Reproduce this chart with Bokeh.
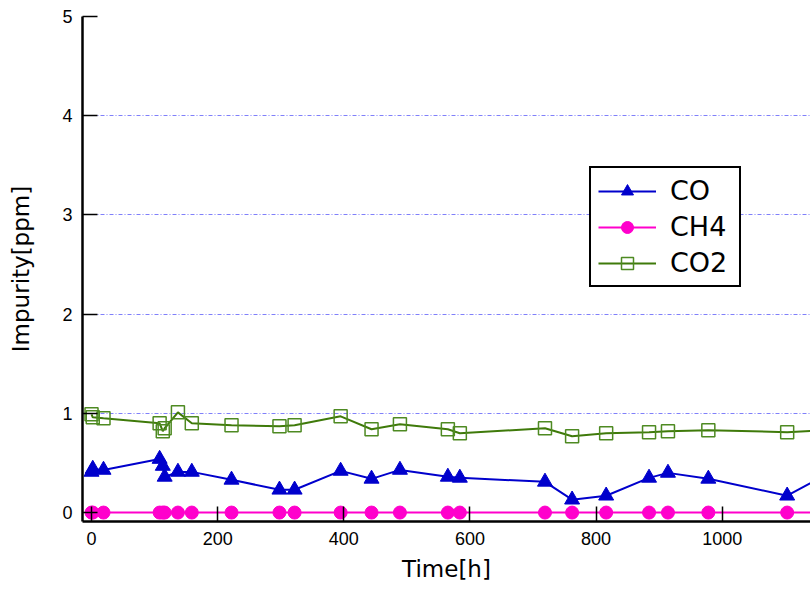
from bokeh.plotting import figure
from bokeh.models import Range1d, FixedTicker, SingleIntervalTicker, Legend
from bokeh.embed import file_html
from bokeh.resources import INLINE

# Time [h]
time_h = [0, 2, 19, 108, 113, 116, 137, 159, 222, 298, 322, 395, 444, 489,
          565, 584, 719, 762, 816, 884, 914, 978, 1103, 1190]
# Impurity [ppm]
co = [0.41, 0.44, 0.43, 0.54, 0.47, 0.36, 0.41, 0.41, 0.33, 0.23, 0.23, 0.42,
      0.34, 0.43, 0.36, 0.35, 0.31, 0.13, 0.17, 0.35, 0.40, 0.34, 0.17, 0.47]
ch4 = [0.0] * len(time_h)
co2 = [0.99, 0.96, 0.95, 0.90, 0.82, 0.85, 1.01, 0.90, 0.88, 0.87, 0.88, 0.97,
       0.84, 0.89, 0.84, 0.80, 0.85, 0.77, 0.80, 0.81, 0.82, 0.83, 0.81, 0.84]

y_ticks = [0, 1, 2, 3, 4, 5]

FONT = "DejaVu Sans"
TICKFONT = "Liberation Sans"

p = figure(width=810, height=591, output_backend="svg", toolbar_location=None,
           x_range=Range1d(-14.3, 1140), y_range=Range1d(-0.09, 5.0),
           min_border_left=82, min_border_top=16, min_border_right=0,
           min_border_bottom=70)
p.outline_line_color = None
p.background_fill_color = "white"
p.border_fill_color = "white"

# axes
for ax in (p.xaxis[0], p.yaxis[0]):
    ax.axis_line_width = 2.5
    ax.axis_line_color = "black"
    ax.major_tick_in = 15
    ax.major_tick_out = 0
    ax.minor_tick_in = 0
    ax.minor_tick_out = 0
    ax.major_tick_line_width = 1.5
    ax.major_tick_line_color = "black"
    ax.major_label_text_font = TICKFONT
    ax.major_label_text_font_size = "18px"
    ax.major_label_text_color = "black"
    ax.axis_label_text_font = FONT
    ax.axis_label_text_font_size = "23px"
    ax.axis_label_text_font_style = "normal"
    ax.axis_label_text_color = "black"

p.xaxis.ticker = SingleIntervalTicker(interval=200, num_minor_ticks=0)
p.yaxis.ticker = FixedTicker(ticks=y_ticks)
p.xaxis.axis_label = "Time[h]"
p.yaxis.axis_label = "Impurity[ppm]"
p.xaxis.major_label_standoff = 10
p.xaxis.axis_label_standoff = 8
p.yaxis.major_label_standoff = 10
p.yaxis.axis_label_standoff = 25

p.xgrid.grid_line_color = None
p.ygrid.ticker = FixedTicker(ticks=[1, 2, 3, 4, 5])
p.ygrid.grid_line_color = "#8080fa"
p.ygrid.grid_line_width = 1
p.ygrid.grid_line_dash = "4 2 1 2"

# series
blue = "#0000CC"
magenta = "#FF00CC"
green = "#3F7A0A"
green_m = "#4E8A22"

r_co2_l = p.line(time_h, co2, line_color=green, line_width=2)
r_co2_m = p.scatter(time_h, co2, marker="square", size=13, fill_color=None,
                    line_color=green_m, line_width=1.5)
r_ch4_l = p.line(time_h, ch4, line_color=magenta, line_width=2)
r_ch4_m = p.scatter(time_h, ch4, marker="circle", size=13, fill_color=magenta,
                    line_color=magenta)
r_co_l = p.line(time_h, co, line_color=blue, line_width=2)
r_co_m = p.scatter(time_h, co, marker="triangle", size=15, fill_color=blue,
                   line_color=blue)

legend = Legend(items=[("CO", [r_co_l, r_co_m]),
                       ("CH4", [r_ch4_l, r_ch4_m]),
                       ("CO2", [r_co2_l, r_co2_m])],
                location=(507, 234))
legend.border_line_color = "black"
legend.border_line_width = 2
legend.border_line_alpha = 1
legend.background_fill_color = "white"
legend.background_fill_alpha = 1
legend.label_text_font = FONT
legend.label_text_font_size = "27px"
legend.label_text_color = "black"
legend.glyph_width = 58
legend.glyph_height = 30
legend.label_height = 30
legend.spacing = 5
legend.padding = 7
legend.margin = 0
legend.label_standoff = 14
legend.label_width = 62
p.add_layout(legend, "center")

open("out.html", "w").write(file_html(p, INLINE))
